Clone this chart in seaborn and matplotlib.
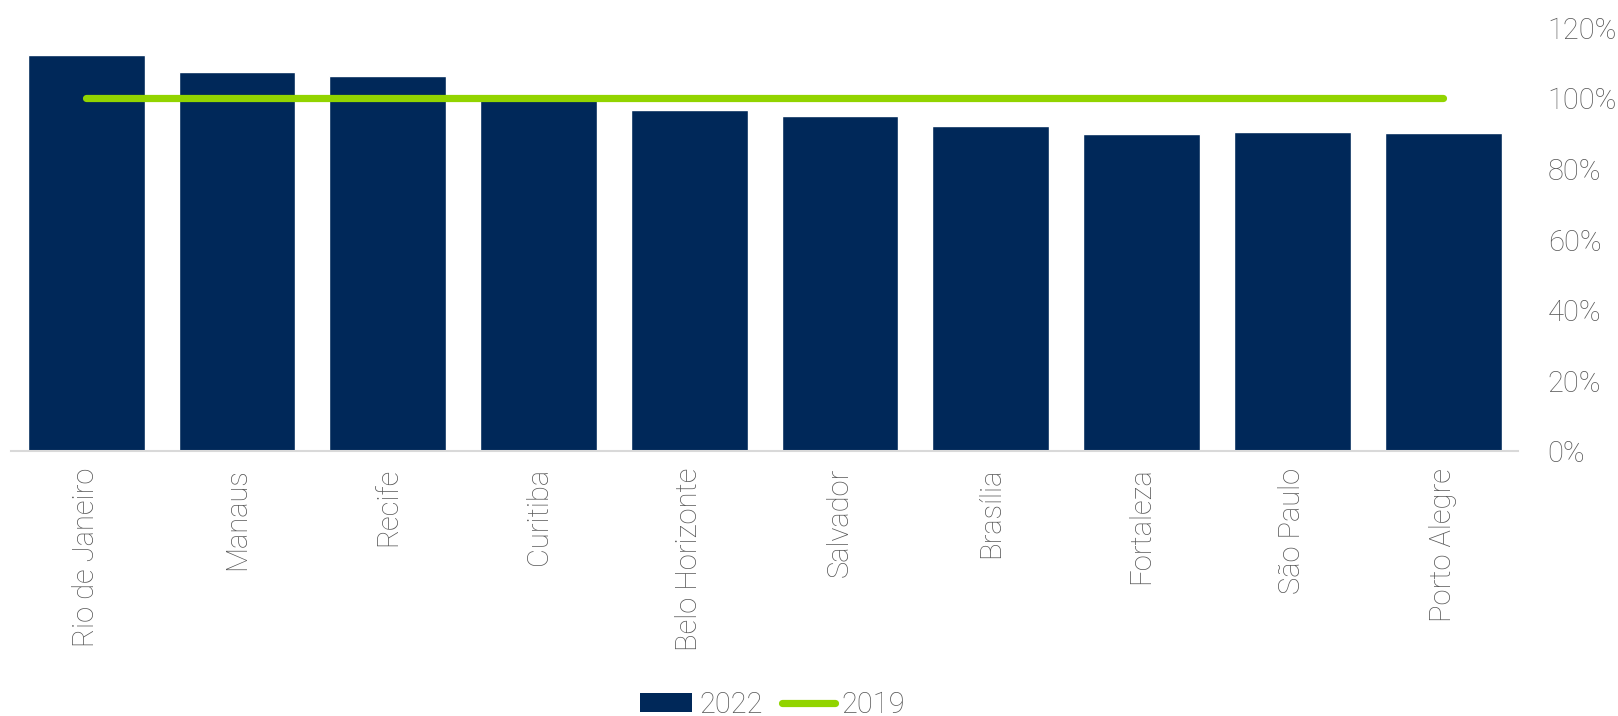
import matplotlib
matplotlib.use("Agg")
import matplotlib.pyplot as plt
import seaborn as sns
import pandas as pd
from matplotlib.ticker import FuncFormatter
from matplotlib.lines import Line2D
from matplotlib.patches import Patch

cities = ["Rio de Janeiro", "Manaus", "Recife", "Curitiba", "Belo Horizonte",
          "Salvador", "Brasília", "Fortaleza", "São Paulo", "Porto Alegre"]
values_2022 = [112.3, 107.6, 106.4, 99.5, 96.8, 95.0, 92.1, 89.8, 90.4, 90.1]
values_2019 = [100, 100, 100, 100, 100, 100, 100, 100, 100, 100]
y_ticks = [0, 20, 40, 60, 80, 100, 120]

navy = "#002859"
green = "#92D400"
text_grey = "#595959"

sns.set_theme(style="white")
plt.rcParams["font.family"] = ["Roboto", "DejaVu Sans"]
plt.rcParams["font.weight"] = "light"

df = pd.DataFrame({"city": cities, "v2022": values_2022, "v2019": values_2019})

fig = plt.figure(figsize=(16.18, 7.16), dpi=100)
ax = fig.add_axes([0.0067, 0.370, 0.9318, 0.591])

sns.barplot(data=df, x="city", y="v2022", color=navy, saturation=1,
            width=0.775, ax=ax)
ax.plot(range(len(cities)), df["v2019"], color=green, lw=5.2,
        solid_capstyle="round", zorder=3)

ax.set_xlim(-0.5, len(cities) - 0.5)
ax.set_ylim(0, 120)
ax.set_yticks(y_ticks)
ax.yaxis.set_major_formatter(FuncFormatter(lambda v, p: f"{v:.0f}%"))
ax.yaxis.tick_right()
ax.tick_params(axis="y", length=0, pad=21, labelsize=21, labelcolor=text_grey)
ax.tick_params(axis="x", length=0, pad=12, labelsize=21, labelcolor=text_grey,
               labelrotation=90)
ax.set_xlabel("")
ax.set_ylabel("")

for s in ["top", "left", "right"]:
    ax.spines[s].set_visible(False)
ax.spines["bottom"].set_color("#D9D9D9")
ax.spines["bottom"].set_linewidth(1.5)

handles = [Patch(facecolor=navy, edgecolor="none", label="2022"),
           Line2D([0], [0], color=green, lw=5.2, solid_capstyle="round", label="2019")]
leg = fig.legend(handles=handles, loc="lower center", ncol=2, frameon=False,
                 bbox_to_anchor=(0.4775, -0.004), fontsize=21, handlelength=1.8,
                 handletextpad=0.25, columnspacing=0.65, handleheight=0.65,
                 borderpad=0, borderaxespad=0)
for t in leg.get_texts():
    t.set_color(text_grey)

fig.savefig("out.png", dpi=100)
